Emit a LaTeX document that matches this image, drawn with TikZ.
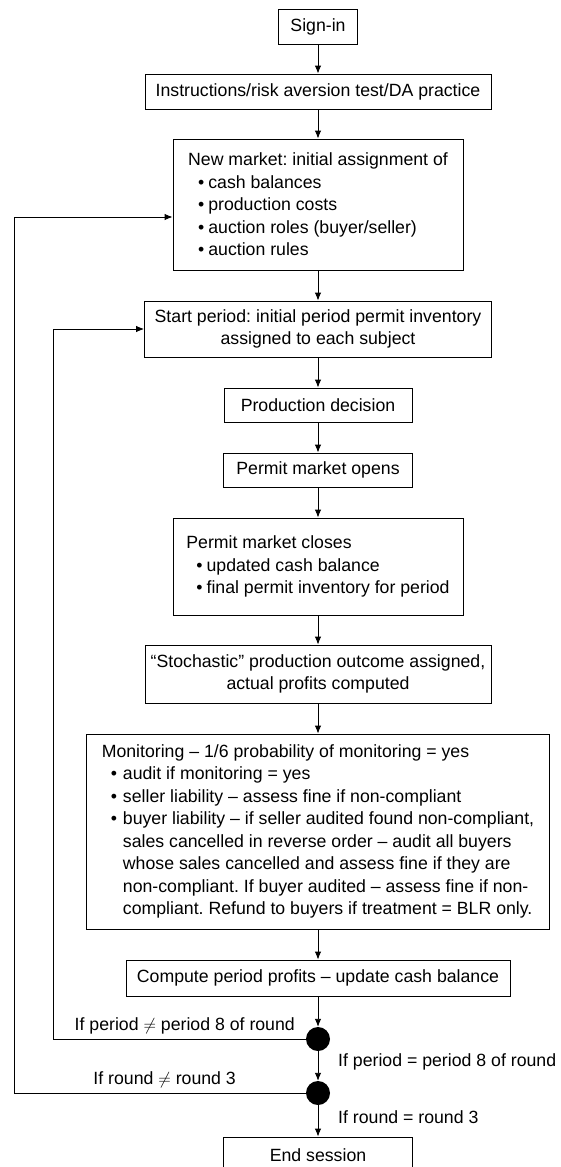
\documentclass[tikz,border=0pt]{standalone}
\usepackage{fontspec}
\setmainfont{Liberation Sans}
\usepackage{tikz}
\usetikzlibrary{positioning,arrows.meta,calc}
\tikzset{
  flowarrow/.style={-{Latex[length=8pt,width=6.5pt]}, line width=0.9pt},
  stepbox/.style={draw, line width=0.9pt, inner sep=0pt, align=center, minimum height=35pt},
  listbox/.style={draw, line width=0.9pt, inner sep=0pt, align=left},
  decisiondot/.style={circle, fill=black, inner sep=0pt, minimum size=24pt},
  condlabel/.style={inner sep=0pt}
}
\frenchspacing
\newcommand{\itm}{\hspace*{10pt}\textbullet\hspace{4pt}}
\newcommand{\mitm}{\hspace*{9pt}\textbullet\hspace{6pt}}
\newcommand{\mind}{\hspace*{21.2pt}}

\begin{document}
\begin{tikzpicture}[x=1pt, y=-1pt, every node/.style={font=\fontsize{17.7}{22.5}\selectfont}]
  \useasboundingbox (0,0) rectangle (560,1167);
  \clip (0,0) rectangle (560,1167);
  % main column
  \node[stepbox, minimum width=79pt] (signin) at (318,26.5) {Sign-in};
  \node[stepbox, minimum width=346pt] (instr) at (318,91.5) {Instructions/risk aversion test/DA practice};
  \node[listbox, minimum width=290pt, minimum height=131pt] (newmkt) at (318,204.5)
    {New market: initial assignment of\\
     \itm cash balances\\
     \itm production costs\\
     \itm auction roles (buyer/seller)\\
     \itm auction rules};
  \node[stepbox, minimum width=347pt, minimum height=56pt] (startp) at (318,329)
    {Start period: initial period permit inventory\\assigned to each subject};
  \node[stepbox, minimum width=188pt, minimum height=34pt] (proddec) at (318,405) {Production decision};
  \node[stepbox, minimum width=189pt, minimum height=34pt] (mktopen) at (318,470) {Permit market opens};
  \node[listbox, minimum width=290pt, minimum height=97pt] (mktclose) at (318,566.5)
    {Permit market closes\\
     \itm updated cash balance\\
     \itm final permit inventory for period};
  \node[stepbox, minimum width=346pt, minimum height=58pt] (stoch) at (318,674)
    {“Stochastic” production outcome assigned,\\actual profits computed};
  \node[listbox, minimum width=463pt, minimum height=195pt] (monitor) at (318,831.5)
    {Monitoring -- 1/6 probability of monitoring = yes\\
     \mitm audit if monitoring = yes\\
     \mitm seller liability -- assess fine if non-compliant\\
     \mitm buyer liability -- if seller audited found non-compliant,\\
     \mind sales cancelled in reverse order -- audit all buyers\\
     \mind whose sales cancelled and assess fine if they are\\
     \mind non-compliant. If buyer audited -- assess fine if non-\\
     \mind compliant. Refund to buyers if treatment = BLR only.};
  \node[stepbox, minimum width=384pt, minimum height=36pt] (compute) at (318,978)
    {Compute period profits -- update cash balance};
  \node[decisiondot] (dotA) at (318,1039) {};
  \node[decisiondot] (dotB) at (318,1093) {};
  \node[stepbox, minimum width=189pt, minimum height=36pt] (endsess) at (318,1155) {End session};

  \draw[flowarrow] (signin) -- (instr);
  \draw[flowarrow] (instr) -- (newmkt);
  \draw[flowarrow] (newmkt) -- (startp);
  \draw[flowarrow] (startp) -- (proddec);
  \draw[flowarrow] (proddec) -- (mktopen);
  \draw[flowarrow] (mktopen) -- (mktclose);
  \draw[flowarrow] (mktclose) -- (stoch);
  \draw[flowarrow] (stoch) -- (monitor);
  \draw[flowarrow] (monitor) -- (compute);
  \draw[flowarrow] (compute) -- (dotA);
  \draw[flowarrow] (dotA) -- (dotB);
  \draw[flowarrow] (dotB) -- (endsess);

  % loops back
  \coordinate (backA) at (14,217);
  \coordinate (backB) at (53,329);
  \draw[flowarrow] (dotB.west) -| (backA) -- (backA -| newmkt.west);
  \draw[flowarrow] (dotA.west) -| (backB) -- (startp.west);

  \node[condlabel, anchor=east] (neqperiod) at (295,1026) {If period $\neq$ period 8 of round};
  \node[condlabel, anchor=east] (neqround) at (236,1080) {If round $\neq$ round 3};
  \node[condlabel, anchor=west] (eqperiod) at (338,1062) {If period = period 8 of round};
  \node[condlabel, anchor=west] (eqround) at (338,1117) {If round = round 3};
\end{tikzpicture}
\end{document}
